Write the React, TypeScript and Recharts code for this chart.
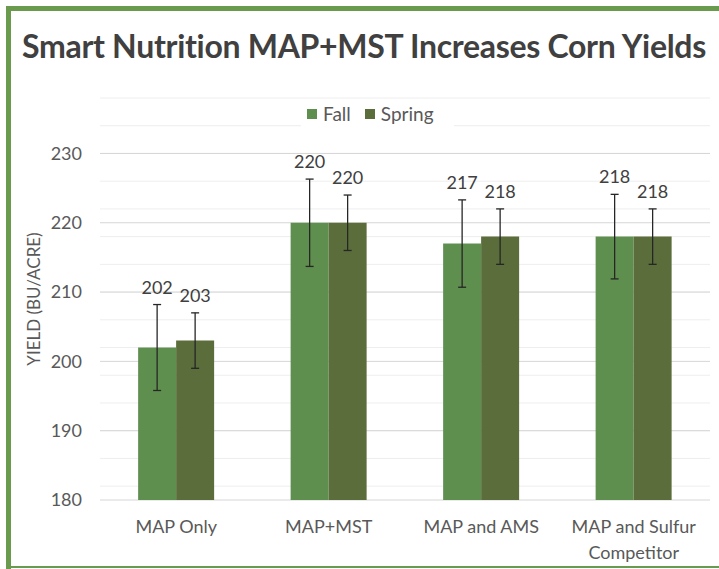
import React from "react";
import { BarChart, Bar, XAxis, YAxis, CartesianGrid, Legend, ErrorBar, LabelList, Text } from "recharts";

const categories = ["MAP Only", "MAP+MST", "MAP and AMS", "MAP and Sulfur Competitor"];
const fallYield = [202, 220, 217, 218];
const springYield = [203, 220, 218, 218];
const fallError = [6.2, 6.3, 6.3, 6.1];
const springError = [4, 4, 4, 4];
const yTicks = [180, 190, 200, 210, 220, 230];
const minorTicks = Array.from({ length: 30 }, (_, i) => 180 + i * 2);

const data = categories.map((name, i) => ({
  name,
  fall: fallYield[i],
  spring: springYield[i],
  fallErr: fallError[i],
  springErr: springError[i],
}));

const FONT = "Lato, 'Open Sans', sans-serif";
const FALL = "#5f8f4e";
const SPRING = "#5a6d3b";
const GREEN_FRAME = "#6a9a4d";

const makeValueLabel = (errors: number[]) => (props: any) => {
  const { x, y, width, height, value, index } = props;
  const ppu = height / (value - 180);
  const errTop = y - errors[index] * ppu;
  return (
    <text x={x + width / 2} y={errTop - 11} textAnchor="middle" fill="#404040" fontSize={18} fontFamily={FONT}>
      {value}
    </text>
  );
};

const CategoryTick = (props: any) => {
  const { x, y, payload } = props;
  return (
    <Text
      x={x}
      y={y}
      dy={12}
      width={150}
      textAnchor="middle"
      verticalAnchor="start"
      lineHeight="1.45em"
      fill="#595959"
      style={{ fontSize: 18, fontFamily: FONT }}
    >
      {payload.value}
    </Text>
  );
};

const LegendContent = (props: any) => (
  <div style={{ display: "flex", alignItems: "center", background: "#fff", padding: "2px 6px", fontFamily: FONT, fontSize: 19, color: "#595959" }}>
    {props.payload.map((p: any) => (
      <div key={p.value} style={{ display: "flex", alignItems: "center", marginRight: 14 }}>
        <span style={{ width: 10, height: 10, background: p.color, marginRight: 6, display: "inline-block" }} />
        <span>{p.value}</span>
      </div>
    ))}
  </div>
);

export default function App() {
  return (
    <div style={{ position: "absolute", top: 0, left: 0, width: 719, height: 569, background: "#fff", overflow: "hidden" }}>
      <div style={{ position: "absolute", left: 6, top: 6, width: 713, height: 5, background: GREEN_FRAME }} />
      <div style={{ position: "absolute", left: 6, top: 6, width: 5, height: 563, background: GREEN_FRAME }} />
      <div style={{ position: "absolute", left: 6, top: 566, width: 713, height: 2, background: GREEN_FRAME }} />
      <div
        style={{
          position: "absolute",
          left: 22,
          top: 26,
          whiteSpace: "nowrap",
          fontFamily: FONT,
          fontWeight: 700,
          fontSize: 32,
          letterSpacing: -0.3,
          lineHeight: "40px",
          color: "#404040",
        }}
      >
        Smart Nutrition MAP+MST Increases Corn Yields
      </div>
      <div style={{ position: "absolute", left: 0, top: 0 }}>
        <BarChart
          width={719}
          height={569}
          data={data}
          margin={{ top: 98, right: 9, bottom: 0, left: 0 }}
          barCategoryGap="25%"
          barGap={0}
        >
          <CartesianGrid vertical={false} stroke="#eeeeee" horizontalValues={minorTicks} />
          <CartesianGrid vertical={false} stroke="#d6d6d6" horizontalValues={yTicks} />
          <XAxis dataKey="name" axisLine={false} tickLine={false} height={69} interval={0} tick={<CategoryTick />} />
          <YAxis
            domain={[180, 238]}
            ticks={yTicks}
            width={100}
            axisLine={false}
            tickLine={false}
            tickMargin={12}
            tick={{ fill: "#595959", fontSize: 18, fontFamily: FONT }}
            label={{
              content: (p: any) => {
                const vb = p.viewBox;
                const cx = 33;
                const cy = vb.y + vb.height / 2;
                return (
                  <text x={cx} y={cy} transform={`rotate(-90 ${cx} ${cy})`} textAnchor="middle" dominantBaseline="central" fill="#595959" fontSize={17} fontFamily={FONT}>
                    YIELD (BU/ACRE)
                  </text>
                );
              },
            }}
          />
          <Legend
            layout="horizontal"
            verticalAlign="middle"
            align="center"
            wrapperStyle={{ top: 100, left: 301, width: "auto", height: "auto" }}
            content={<LegendContent />}
          />
          <Bar dataKey="fall" name="Fall" fill={FALL} isAnimationActive={false}>
            <ErrorBar dataKey="fallErr" width={4} stroke="#262626" strokeWidth={1.3} />
            <LabelList dataKey="fall" content={makeValueLabel(fallError)} />
          </Bar>
          <Bar dataKey="spring" name="Spring" fill={SPRING} isAnimationActive={false}>
            <ErrorBar dataKey="springErr" width={4} stroke="#262626" strokeWidth={1.3} />
            <LabelList dataKey="spring" content={makeValueLabel(springError)} />
          </Bar>
        </BarChart>
      </div>
    </div>
  );
}
